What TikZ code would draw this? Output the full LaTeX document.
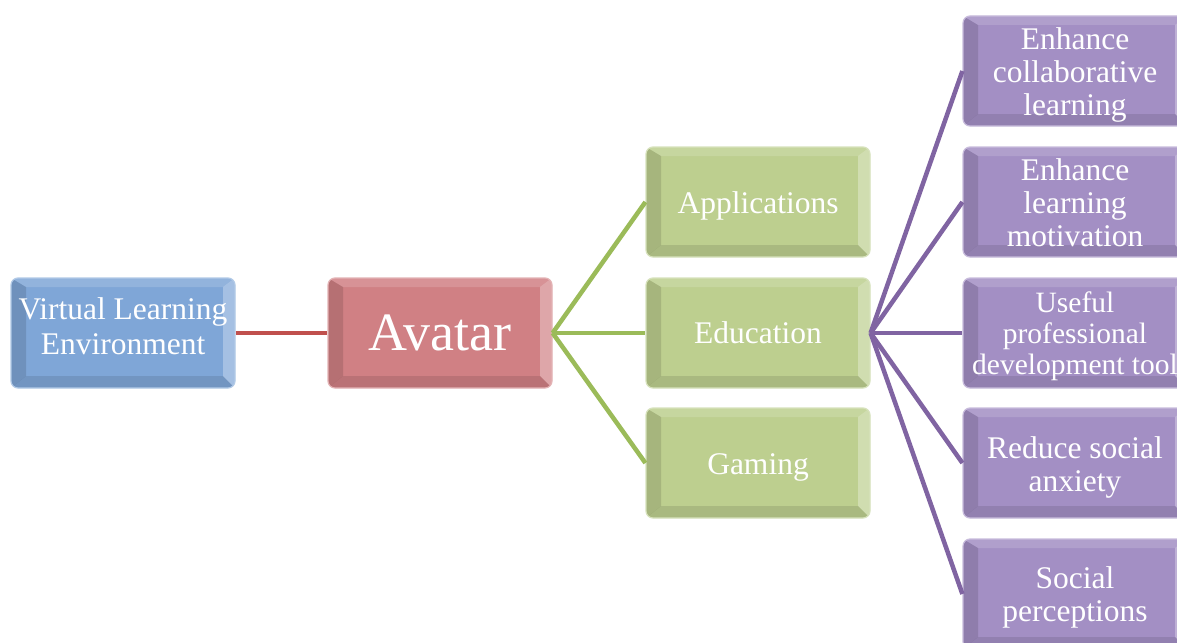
\documentclass[tikz,border=0pt]{standalone}
\usepackage{fontspec}
\setmainfont{Liberation Serif}
\definecolor{faceBlue}{RGB}{127,166,215}
\definecolor{faceRed}{RGB}{208,128,132}
\definecolor{faceGreen}{RGB}{189,207,143}
\definecolor{facePurple}{RGB}{163,143,196}
\definecolor{lineRed}{RGB}{192,80,77}
\definecolor{lineGreen}{RGB}{155,187,89}
\definecolor{linePurple}{RGB}{128,100,162}
\tikzset{
  bevelbox/.style={rectangle, rounded corners=7pt, minimum width=224pt, minimum height=110pt,
    inner sep=0pt, fill=#1, draw=#1!60!white, line width=1.2pt,
    path picture={
      \fill[white,opacity=0.15,sharp corners] (path picture bounding box.north west) -- (path picture bounding box.north east)
        -- ([xshift=-12pt,yshift=-9pt]path picture bounding box.north east) -- ([xshift=15pt,yshift=-9pt]path picture bounding box.north west) -- cycle;
      \fill[white,opacity=0.3,sharp corners] (path picture bounding box.north east) -- (path picture bounding box.south east)
        -- ([xshift=-12pt,yshift=12pt]path picture bounding box.south east) -- ([xshift=-12pt,yshift=-9pt]path picture bounding box.north east) -- cycle;
      \fill[black,opacity=0.1,sharp corners] (path picture bounding box.south east) -- (path picture bounding box.south west)
        -- ([xshift=15pt,yshift=12pt]path picture bounding box.south west) -- ([xshift=-12pt,yshift=12pt]path picture bounding box.south east) -- cycle;
      \fill[black,opacity=0.12,sharp corners] (path picture bounding box.south west) -- (path picture bounding box.north west)
        -- ([xshift=15pt,yshift=-9pt]path picture bounding box.north west) -- ([xshift=15pt,yshift=12pt]path picture bounding box.south west) -- cycle;
    }},
  lbl/.style={text=white, align=center, inner sep=0pt, font=\fontsize{31.5}{35}\selectfont},
  lblp/.style={lbl, font=\fontsize{31.5}{33}\selectfont},
  lbls/.style={lbl, font=\fontsize{29.5}{31}\selectfont},
  lblbig/.style={lbl, font=\fontsize{54}{60}\selectfont},
  conn/.style={line width=4.5pt, color=#1}
}
\begin{document}
\begin{tikzpicture}[x=1pt,y=-1pt]
\useasboundingbox (0,0) rectangle (1177,642);
\clip (0,0) rectangle (1177,642);
\fill[white] (0,0) rectangle (1177,642);
\node[bevelbox=faceBlue, label={[lbl, yshift=7pt]center:Virtual Learning\\Environment}] (vle) at (123,333) {};
\node[bevelbox=faceRed, label={[lblbig]center:Avatar}] (avatar) at (440,333) {};
\node[bevelbox=faceGreen, label={[lbl, yshift=-4pt]center:Applications}] (app) at (758,202) {};
\node[bevelbox=faceGreen, label={[lbl]center:Education}] (edu) at (758,333) {};
\node[bevelbox=faceGreen, label={[lbl, yshift=-4pt]center:Gaming}] (game) at (758,463) {};
\node[bevelbox=facePurple, label={[lblp, yshift=-4pt]center:Enhance\\collaborative\\learning}] (p1) at (1075,71) {};
\node[bevelbox=facePurple, label={[lblp, yshift=-1pt]center:Enhance\\learning\\motivation}] (p2) at (1075,202) {};
\node[bevelbox=facePurple, label={[lbls, yshift=-3pt]center:Useful\\professional\\development tool}] (p3) at (1075,333) {};
\node[bevelbox=facePurple, label={[lblp, yshift=-4pt]center:Reduce social\\anxiety}] (p4) at (1075,463) {};
\node[bevelbox=facePurple, label={[lblp, yshift=-3pt]center:Social\\perceptions}] (p5) at (1075,594) {};
\draw[conn=lineRed] (vle.east) -- (avatar.west);
\draw[conn=lineGreen] (avatar.east) -- (app.west);
\draw[conn=lineGreen] (avatar.east) -- (edu.west);
\draw[conn=lineGreen] (avatar.east) -- (game.west);
\foreach \p in {p1,p2,p3,p4,p5} \draw[conn=linePurple] (edu.east) -- (\p.west);
\end{tikzpicture}
\end{document}
